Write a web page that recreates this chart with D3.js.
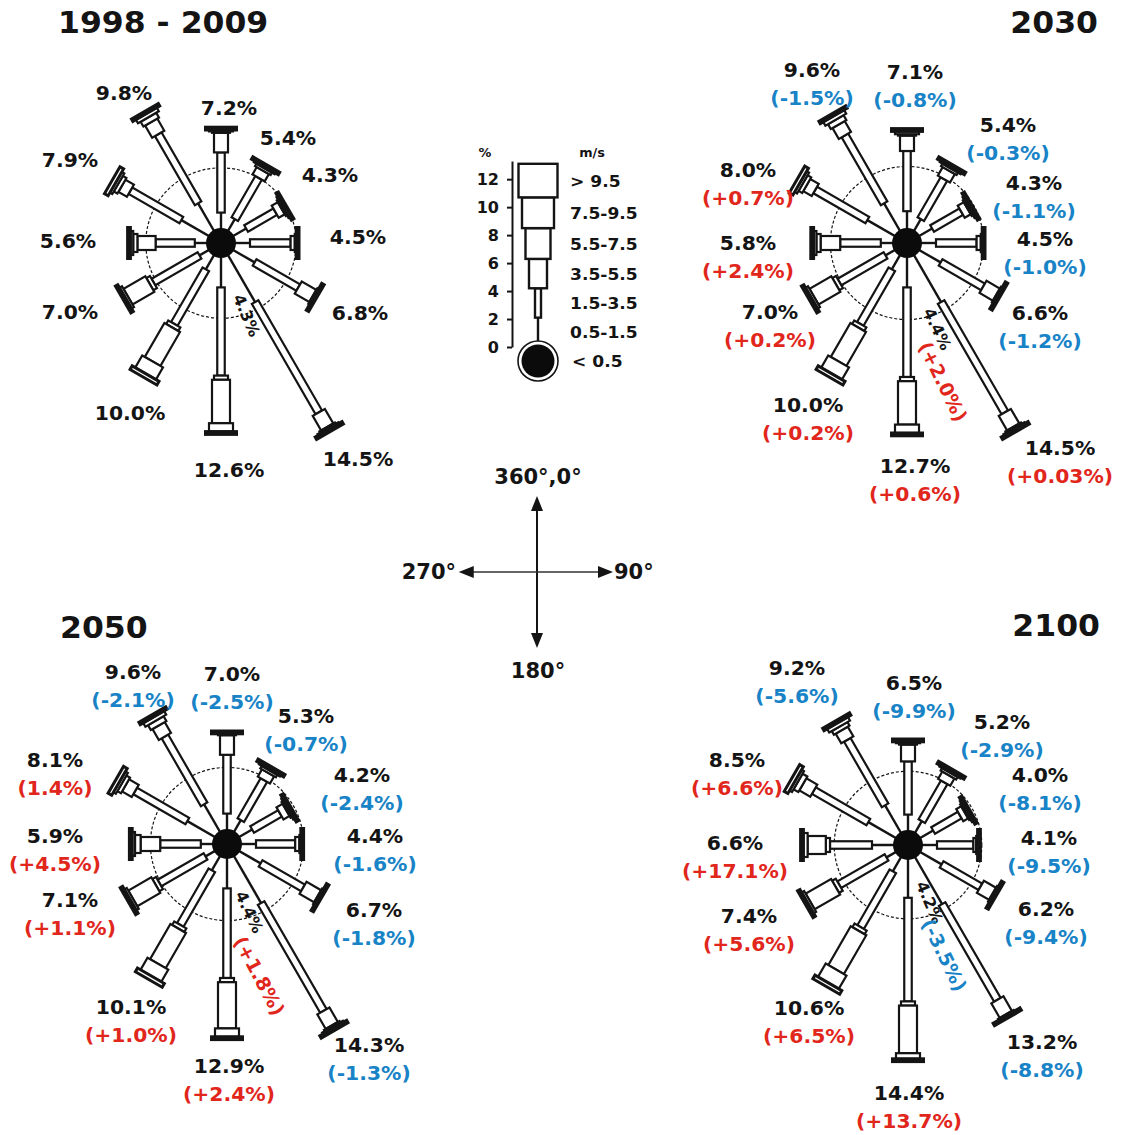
<!DOCTYPE html>
<html>
<head>
<meta charset="utf-8">
<script src="https://cdn.jsdelivr.net/npm/d3@7"></script>
<style>
  body { margin: 0; background: #fff; }
  svg text { font-family: "DejaVu Sans", sans-serif; font-weight: bold; }
</style>
</head>
<body>
<svg id="chart" width="1128" height="1135"></svg>
<script>
// Directions (degrees, clockwise from north)
const directions = [0, 30, 60, 90, 120, 150, 180, 210, 240, 270, 300, 330];

// Wind speed classes (m/s), drawn from the centre outwards
const speedClasses = ['0.5-1.5', '1.5-3.5', '3.5-5.5', '5.5-7.5', '7.5-9.5', '> 9.5'];
const calmClass = '< 0.5';

// Total frequency per direction (%)
const totals1998 = [7.2, 5.4, 4.3, 4.5, 6.8, 14.5, 12.6, 10.0, 7.0, 5.6, 7.9, 9.8];
const totals2030 = [7.1, 5.4, 4.3, 4.5, 6.6, 14.5, 12.7, 10.0, 7.0, 5.8, 8.0, 9.6];
const totals2050 = [7.0, 5.3, 4.2, 4.4, 6.7, 14.3, 12.9, 10.1, 7.1, 5.9, 8.1, 9.6];
const totals2100 = [6.5, 5.2, 4.0, 4.1, 6.2, 13.2, 14.4, 10.6, 7.4, 6.6, 8.5, 9.2];

// Change versus 1998-2009 (%)
const change2030 = ['-0.8', '-0.3', '-1.1', '-1.0', '-1.2', '+0.03', '+0.6', '+0.2', '+0.2', '+2.4', '+0.7', '-1.5'];
const change2050 = ['-2.5', '-0.7', '-2.4', '-1.6', '-1.8', '-1.3', '+2.4', '+1.0', '+1.1', '+4.5', '1.4', '-2.1'];
const change2100 = ['-9.9', '-2.9', '-8.1', '-9.5', '-9.4', '-8.8', '+13.7', '+6.5', '+5.6', '+17.1', '+6.6', '-5.6'];

// Calms (%) and their change
const calms = [4.3, 4.4, 4.4, 4.2];
const calmChanges = [null, '+2.0', '+1.8', '-3.5'];

// Frequency per speed class for each direction (%)
const classes1998 = [
  [1.1, 4.3, 1.4, 0.1, 0.1, 0.2],
  [0.9, 3.4, 0.6, 0.2, 0.1, 0.2],
  [1.0, 2.4, 0.5, 0.1, 0.1, 0.2],
  [1.0, 2.9, 0.3, 0.1, 0.0, 0.2],
  [1.7, 3.6, 1.2, 0.1, 0.0, 0.2],
  [3.8, 9.1, 1.2, 0.1, 0.1, 0.2],
  [2.1, 6.3, 0.3, 3.1, 0.6, 0.2],
  [1.1, 4.5, 0.3, 2.8, 1.0, 0.3],
  [0.7, 3.8, 0.3, 1.8, 0.2, 0.2],
  [0.8, 2.8, 1.3, 0.3, 0.2, 0.2],
  [2.2, 4.2, 0.7, 0.3, 0.2, 0.3],
  [2.2, 5.7, 1.0, 0.4, 0.3, 0.2]
];
const classes2030 = [
  [1.2, 4.3, 1.1, 0.1, 0.2, 0.2],
  [0.9, 3.3, 0.7, 0.2, 0.1, 0.2],
  [1.0, 2.4, 0.5, 0.1, 0.1, 0.2],
  [1.0, 2.9, 0.3, 0.1, 0.0, 0.2],
  [1.7, 3.5, 1.1, 0.1, 0.0, 0.2],
  [3.8, 9.1, 1.2, 0.1, 0.1, 0.2],
  [2.1, 6.4, 0.3, 3.1, 0.6, 0.2],
  [1.1, 4.5, 0.3, 2.8, 1.0, 0.3],
  [0.7, 3.8, 0.3, 1.8, 0.2, 0.2],
  [0.8, 2.9, 1.4, 0.3, 0.2, 0.2],
  [2.2, 4.3, 0.7, 0.3, 0.2, 0.3],
  [2.2, 5.6, 0.9, 0.4, 0.3, 0.2]
];
const classes2050 = [
  [1.1, 4.2, 1.4, 0.1, 0.0, 0.2],
  [0.9, 3.3, 0.6, 0.2, 0.1, 0.2],
  [1.0, 2.3, 0.5, 0.1, 0.1, 0.2],
  [1.0, 2.8, 0.3, 0.1, 0.0, 0.2],
  [1.7, 3.5, 1.2, 0.1, 0.0, 0.2],
  [3.8, 8.9, 1.2, 0.1, 0.1, 0.2],
  [2.1, 6.4, 0.3, 3.3, 0.6, 0.2],
  [1.1, 4.5, 0.3, 2.9, 1.0, 0.3],
  [0.7, 3.8, 0.3, 1.9, 0.2, 0.2],
  [0.8, 2.9, 1.4, 0.4, 0.2, 0.2],
  [2.2, 4.3, 0.8, 0.3, 0.2, 0.3],
  [2.2, 5.6, 0.9, 0.4, 0.3, 0.2]
];
const classes2100 = [
  [1.1, 3.8, 1.2, 0.1, 0.1, 0.2],
  [0.9, 3.2, 0.6, 0.2, 0.1, 0.2],
  [1.0, 2.2, 0.4, 0.1, 0.1, 0.2],
  [1.0, 2.6, 0.2, 0.1, 0.0, 0.2],
  [1.7, 3.2, 1.0, 0.1, 0.0, 0.2],
  [3.8, 7.9, 1.2, 0.1, 0.0, 0.2],
  [2.7, 7.4, 0.3, 3.4, 0.4, 0.2],
  [1.1, 4.6, 0.3, 3.2, 1.1, 0.3],
  [0.7, 3.9, 0.3, 2.1, 0.2, 0.2],
  [1.5, 3.0, 0.3, 1.3, 0.3, 0.2],
  [2.2, 4.5, 0.9, 0.4, 0.2, 0.3],
  [2.2, 5.4, 0.8, 0.3, 0.3, 0.2]
];

// Legend bands (% of scale for each speed class) and axis ticks
const legendBands = [2.1, 2.1, 2.1, 2.2, 2.2, 2.4];
const legendTicks = [0, 2, 4, 6, 8, 10, 12];

// Compass labels
const compassLabels = ['360°,0°', '90°', '180°', '270°'];

// ---------------------------------------------------------------
// Layout (positions only)
const INK = '#141414';
const BLUE = '#1883c6';
const RED = '#e1261c';
const SX = 1.07; // horizontal stretch of the lettering

const roses = [
  { title: '1998 - 2009', cx: 221, cy: 243, tx: 58, ty: 33, anchor: 'start',
    totals: totals1998, classes: classes1998, changes: null, calm: calms[0], calmChange: calmChanges[0],
    labels: [[8,-135],[67,-105],[109,-68],[137,-6],[139,70],[137,216],[8,227],[-91,170],[-151,69],[-153,-2],[-151,-83],[-97,-150]],
    calmLab: { x: 17, y: 52, a: 67 } },
  { title: '2030', cx: 907, cy: 243, tx: 1098, ty: 33, anchor: 'end',
    totals: totals2030, classes: classes2030, changes: change2030, calm: calms[1], calmChange: calmChanges[1],
    labels: [[8,-171],[101,-118],[127,-60],[138,-4],[133,70],[153,205],[8,223],[-99,162],[-137,69],[-159,0],[-159,-73],[-95,-173]],
    calmLab: { x: 21, y: 66, a: 65, x2: 17, y2: 100, a2: 64 } },
  { title: '2050', cx: 227, cy: 844, tx: 60, ty: 638, anchor: 'start',
    totals: totals2050, classes: classes2050, changes: change2050, calm: calms[2], calmChange: calmChanges[2],
    labels: [[5,-170],[79,-128],[135,-69],[148,-8],[147,66],[142,201],[2,222],[-96,163],[-157,56],[-172,-8],[-172,-84],[-94,-172]],
    calmLab: { x: 13, y: 48, a: 65, x2: 12, y2: 94, a2: 62 } },
  { title: '2100', cx: 908, cy: 845, tx: 1100, ty: 636, anchor: 'end',
    totals: totals2100, classes: classes2100, changes: change2100, calm: calms[3], calmChange: calmChanges[3],
    labels: [[6,-162],[94,-123],[132,-70],[141,-7],[138,64],[134,197],[1,248],[-99,163],[-159,71],[-173,-2],[-171,-85],[-111,-177]],
    calmLab: { x: 13, y: 37, a: 67, x2: 19, y2: 75, a2: 64 } }
];

const svg = d3.select('#chart');

// Radial scale: % -> distance from centre (spokes start at the calm disk)
const r = d3.scaleLinear().domain([0, 14]).range([15, 15 + 14 * 14]);
const spokeWidths = [0, 7.5, 14, 18, 24, 31];

const changeColour = (s) => s.trim().startsWith('-') ? BLUE : RED;

function addText(parent, x, y, str, opts = {}) {
  return parent.append('text')
    .attr('transform', `translate(${x},${y}) scale(${opts.sx || SX},1)`)
    .attr('text-anchor', opts.anchor || 'middle')
    .attr('font-size', opts.size || 19)
    .attr('font-weight', opts.weight || 'bold')
    .attr('fill', opts.fill || INK)
    .text(str);
}

function drawSpoke(selection, vals, widths, scale, stroke) {
  const cum = [0, ...d3.cumsum(vals)];
  selection.append('line')
    .attr('x1', 0).attr('y1', 0)
    .attr('x2', 0).attr('y2', -scale(cum[1]))
    .attr('stroke', INK)
    .attr('stroke-width', 2.4);
  for (let k = 1; k < vals.length; k++) {
    if (vals[k] <= 0) continue;
    const y0 = scale(cum[k]);
    const y1 = scale(cum[k + 1]);
    const last = k === vals.length - 1;
    selection.append('rect')
      .attr('x', -widths[k] / 2)
      .attr('y', -y1)
      .attr('width', widths[k])
      .attr('height', y1 - y0)
      .attr('fill', '#fff')
      .attr('stroke', INK)
      .attr('stroke-width', last ? stroke + 0.8 : stroke);
  }
}

roses.forEach((rose) => {
  const g = svg.append('g').attr('transform', `translate(${rose.cx},${rose.cy})`);

  // Calm circle
  g.append('circle')
    .attr('r', r(rose.calm))
    .attr('fill', 'none')
    .attr('stroke', INK)
    .attr('stroke-width', 1.2)
    .attr('stroke-dasharray', '3 2');

  // Spokes
  g.selectAll('g.spoke')
    .data(directions.map((dir, i) => ({ dir, vals: rose.classes[i] })))
    .join('g')
    .attr('class', 'spoke')
    .attr('transform', (d) => `rotate(${d.dir})`)
    .each(function (d) {
      drawSpoke(d3.select(this), d.vals, spokeWidths, r, 2.2);
    });

  // Centre disk
  g.append('circle').attr('r', 15).attr('fill', '#0b0b0b');

  // Direction labels
  directions.forEach((dir, i) => {
    const [dx, dy] = rose.labels[i];
    addText(g, dx, dy + 7, `${rose.totals[i].toFixed(1)}%`);
    if (rose.changes) {
      const c = rose.changes[i];
      addText(g, dx, dy + 35, `(${c}%)`, { fill: changeColour(c) });
    }
  });

  // Calm label (rotated)
  const cl = rose.calmLab;
  g.append('text')
    .attr('transform', `translate(${cl.x},${cl.y}) rotate(${cl.a})`)
    .attr('font-size', 16)
    .attr('dy', '0.35em')
    .attr('fill', INK)
    .text(`${rose.calm.toFixed(1)}%`);
  if (rose.calmChange) {
    g.append('text')
      .attr('transform', `translate(${cl.x2},${cl.y2}) rotate(${cl.a2})`)
      .attr('font-size', 19)
      .attr('dy', '0.35em')
      .attr('fill', changeColour(rose.calmChange))
      .text(`(${rose.calmChange}%)`);
  }

  // Title
  addText(svg, rose.tx, rose.ty, rose.title, { size: 30, anchor: rose.anchor, sx: 1.05 });
});

// ---------------------------------------------------------------
// Legend
const legend = svg.append('g');
const legendY = d3.scaleLinear().domain([0, 13.3]).range([347, 161]);
const legendX = 538;
const legendWidths = [0, 6, 18, 25, 32, 39];

const axis = d3.axisLeft(legendY)
  .tickValues(legendTicks)
  .tickSize(5)
  .tickSizeOuter(0)
  .tickPadding(8);

const axisG = legend.append('g')
  .attr('transform', 'translate(512,0)')
  .call(axis);
axisG.select('.domain').attr('stroke', INK).attr('stroke-width', 2);
axisG.selectAll('.tick line').attr('stroke', INK).attr('stroke-width', 2);
axisG.selectAll('.tick text')
  .attr('font-size', 16)
  .attr('font-family', '"DejaVu Sans", sans-serif')
  .attr('font-weight', 'bold')
  .attr('fill', INK);

const legendSpoke = legend.append('g').attr('transform', `translate(${legendX},${legendY(0)})`);
const legendScale = (v) => legendY(0) - legendY(v);
drawSpoke(legendSpoke, legendBands, legendWidths, legendScale, 2.4);
legendSpoke.selectAll('rect').attr('stroke-width', 2.4);

// Calm symbol
legend.append('circle').attr('cx', legendX).attr('cy', 361).attr('r', 20)
  .attr('fill', '#fff').attr('stroke', INK).attr('stroke-width', 1.6);
legend.append('circle').attr('cx', legendX).attr('cy', 361).attr('r', 16.5).attr('fill', '#0b0b0b');

// Legend labels
const legendCum = [0, ...d3.cumsum(legendBands)];
speedClasses.forEach((label, k) => {
  const mid = (legendCum[k] + legendCum[k + 1]) / 2;
  addText(legend, 570, legendY(mid) + 6, label, { size: 16, anchor: 'start' });
});
addText(legend, 572, 367, calmClass, { size: 16, anchor: 'start' });
addText(legend, 485, 157, '%', { size: 12 });
addText(legend, 592, 157, 'm/s', { size: 12 });

// ---------------------------------------------------------------
// Compass
const compass = svg.append('g').attr('transform', 'translate(537,572)');
const arm = d3.scaleLinear().domain([0, 1]).range([0, 76]);
const arrows = [
  { rot: 0, len: 1.0, w: 2, c: INK },
  { rot: 90, len: 1.0, w: 1.5, c: '#333' },
  { rot: 180, len: 1.0, w: 2, c: INK },
  { rot: 270, len: 1.03, w: 1.5, c: '#333' }
];
arrows.forEach((a) => {
  const ag = compass.append('g').attr('transform', `rotate(${a.rot})`);
  ag.append('line').attr('x1', 0).attr('y1', 0).attr('x2', 0).attr('y2', -arm(a.len) + 10)
    .attr('stroke', a.c).attr('stroke-width', a.w);
  const tip = -arm(a.len);
  ag.append('path')
    .attr('d', `M0,${tip} L-6,${tip + 15} L6,${tip + 15} Z`)
    .attr('fill', INK);
});
addText(svg, 538, 484, compassLabels[0], { size: 21, weight: 'normal', sx: 1.0 });
addText(svg, 614, 579, compassLabels[1], { size: 21, weight: 'normal', anchor: 'start', sx: 1.0 });
addText(svg, 538, 678, compassLabels[2], { size: 21, weight: 'normal', sx: 1.0 });
addText(svg, 456, 579, compassLabels[3], { size: 21, weight: 'normal', anchor: 'end', sx: 1.0 });
</script>
</body>
</html>
